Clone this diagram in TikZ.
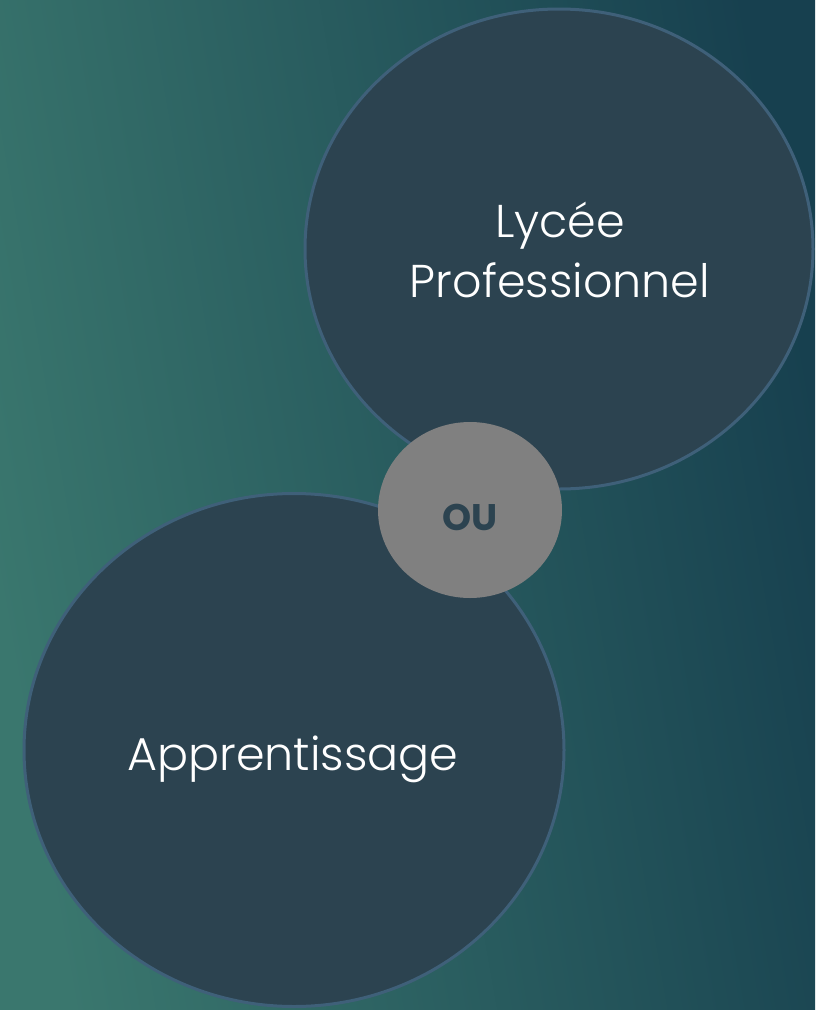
\documentclass[tikz,border=0pt]{standalone}
\usepackage{fontspec}
\setmainfont{Poppins}[UprightFont=* Light, BoldFont=* Bold]
\usetikzlibrary{shapes.geometric}
\definecolor{bgL}{HTML}{3A776E}
\definecolor{bgR}{HTML}{17404F}
\definecolor{bubble}{HTML}{2C4350}
\definecolor{rim}{HTML}{3F6079}
\definecolor{ougray}{HTML}{808080}
\tikzset{
  bigcirc/.style={ellipse, fill=bubble, draw=rim, line width=3pt, inner sep=0pt},
  oucirc/.style={ellipse, fill=ougray, inner sep=0pt},
  label/.style={text=white, font=\fontsize{46}{58}\selectfont, align=center},
}
\begin{document}
\begin{tikzpicture}[x=1pt,y=-1pt]
\shade[left color=bgL, right color=bgR, shading angle=100] (0,0) rectangle (815,1010);
\useasboundingbox (0,0) rectangle (815,1010);
\node[bigcirc, minimum width=508pt, minimum height=480pt] (top) at (559,249) {};
\node[bigcirc, minimum width=540pt, minimum height=513pt] (bot) at (294,750) {};
\node[oucirc, minimum width=184pt, minimum height=176pt] (ou) at (470,510) {};
\node[label, anchor=base] (lycee) at (560,237) {Lycée};
\node[label, anchor=base] (pro) at (560,297) {Professionnel};
\node[label, anchor=base] (app) at (293,770) {Apprentissage};
\node[text=bubble, font=\fontsize{37}{40}\selectfont\bfseries, anchor=base] (outxt) at (470,530) {OU};
\end{tikzpicture}
\end{document}
